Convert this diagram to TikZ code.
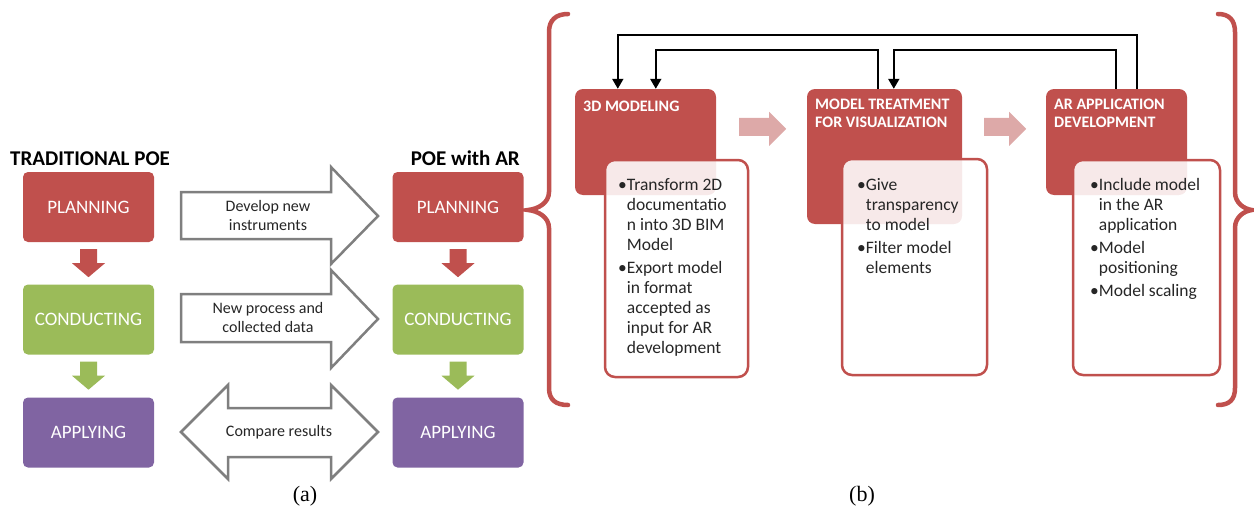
\documentclass[tikz,border=0pt]{standalone}
\usepackage{fontspec}
\setmainfont{Carlito}
\newfontfamily\serifab{Liberation Serif}
\usetikzlibrary{arrows.meta,calc}
\definecolor{cred}{HTML}{C0504D}
\definecolor{cgreen}{HTML}{9BBB59}
\definecolor{cpurple}{HTML}{8064A2}
\definecolor{cgray}{HTML}{7F7F7F}
\definecolor{cpink}{HTML}{DDA9A8}
\definecolor{ctext}{HTML}{262626}
\begin{document}
\begin{tikzpicture}[x=1pt,y=-1pt,
  box/.style={rectangle,rounded corners=5pt,minimum width=131pt,minimum height=70pt,inner sep=0pt,text=white,font=\fontsize{19}{20}\selectfont},
  blockarrow/.style={draw=cgray,line width=2.5pt,fill=white,line join=miter},
  atext/.style={align=center,text=ctext,font=\fontsize{16}{19}\selectfont,inner sep=0pt},
  title/.style={font=\bfseries\fontsize{21}{24}\selectfont,inner sep=0pt,text=black},
  header/.style={rectangle,rounded corners=8pt,fill=cred,inner sep=0pt},
  content/.style={rectangle,rounded corners=10pt,draw=cred,line width=2.5pt,fill=white,fill opacity=0.88,inner sep=0pt},
  htext/.style={font=\bfseries\fontsize{16}{18}\selectfont,text=white,inner sep=0pt,anchor=base west},
  btext/.style={font=\fontsize{17.5}{20}\selectfont,text=ctext,inner sep=0pt,anchor=base west},
  fb/.style={line width=2pt,-{Triangle[length=10pt,width=11pt]}},
  brace/.style={draw=cred,line width=4.5pt,line cap=round},
  caption/.style={font=\serifab\fontsize{22}{24}\selectfont,inner sep=0pt}
]
\useasboundingbox (0,0) rectangle (1254,514);

% ---------- (a) ----------
\node[title,anchor=base west] (tl) at (10,165) {TRADITIONAL POE};
\node[title,anchor=base east] (tr) at (520,165) {POE with AR};

\node[box,fill=cred]    (lp) at (88.5,207)   {PLANNING};
\node[box,fill=cgreen]  (lc) at (88.5,319.5) {CONDUCTING};
\node[box,fill=cpurple] (la) at (88.5,432.5) {APPLYING};
\node[box,fill=cred]    (rp) at (458,207)    {PLANNING};
\node[box,fill=cgreen]  (rc) at (458,319.5)  {CONDUCTING};
\node[box,fill=cpurple] (ra) at (458,432.5)  {APPLYING};

% small down arrows
\foreach \n/\c in {lp/cred,lc/cgreen,rp/cred,rc/cgreen}{
  \fill[\c] ($(\n.south)+(-8.5,7)$) -- ++(17,0) -- ++(0,14) -- ++(8,0)
        -- ++(-16.5,14) -- ++(-16.5,-14) -- ++(8,0) -- cycle;
}

% gray block arrows
\draw[blockarrow] (181,192) -- (331,192) -- (331,167) -- (378,216) -- (331,264) -- (331,239) -- (181,239) -- cycle;
\node[atext] (t1) at (268,216) {Develop new\\instruments};
\draw[blockarrow] (181,294) -- (331,294) -- (331,270) -- (378,319) -- (331,368) -- (331,342) -- (181,342) -- cycle;
\node[atext] (t2) at (268,318) {New process and\\collected data};
\draw[blockarrow] (181,432) -- (228,385) -- (228,408) -- (331,408) -- (331,385) -- (378,432)
   -- (331,479) -- (331,457) -- (228,457) -- (228,479) -- cycle;
\node[atext] (t3) at (279,432) {Compare results};

\node[caption] (ca) at (305,496) {(a)};
\node[caption] (cb) at (862,496) {(b)};

% ---------- (b) ----------
% braces
\draw[brace] (568,14) .. controls (556,14) and (549,20) .. (549,32) -- (549,192)
  .. controls (549,203) and (538,209) .. (528,210)
  .. controls (538,211) and (549,217) .. (549,228) -- (549,388)
  .. controls (549,400) and (556,405) .. (568,405);
\draw[brace] (1218,14) .. controls (1229,14) and (1235,20) .. (1235,32) -- (1235,192)
  .. controls (1235,203) and (1244,209) .. (1252,210)
  .. controls (1244,211) and (1235,217) .. (1235,228) -- (1235,388)
  .. controls (1235,400) and (1229,405) .. (1218,405);

% headers
\node[header,minimum width=141pt,minimum height=106pt] (h1) at (645.5,142) {};
\node[header,minimum width=155pt,minimum height=135pt] (h2) at (884.5,156.5) {};
\node[header,minimum width=141pt,minimum height=106pt] (h3) at (1116.5,142) {};

\node[htext] (ht1) at (583,111) {3D MODELING};
\node[htext] (ht2) at (815,109) {\begin{tabular}[t]{@{}l@{}}MODEL TREATMENT\\FOR VISUALIZATION\end{tabular}};
\node[htext] (ht3) at (1054,109) {\begin{tabular}[t]{@{}l@{}}AR APPLICATION\\DEVELOPMENT\end{tabular}};

% pink arrows
\fill[cpink] ($(h1.north east)+(23,29)$) -- ++(30,0) -- ++(0,-6) -- ++(17,17) -- ++(-17,17) -- ++(0,-10) -- ++(-30,0) -- cycle;
\fill[cpink] ($(h2.north east)+(22,29)$) -- ++(25,0) -- ++(0,-6) -- ++(17,17) -- ++(-17,17) -- ++(0,-10) -- ++(-25,0) -- cycle;

% content boxes
\node[content,minimum width=143pt,minimum height=217pt] (c1) at (676.5,268.5) {};
\node[content,minimum width=145pt,minimum height=216pt] (c2) at (914.5,267) {};
\node[content,minimum width=147pt,minimum height=215pt] (c3) at (1146.5,267.5) {};

\node[btext] (b1) at (618,190) {\begin{tabular}[t]{@{}l@{}l@{}}
•&Transform 2D\\ &documentatio\\ &n into 3D BIM\\ &Model\\[3pt]
•&Export model\\ &in format\\ &accepted as\\ &input for AR\\ &development\end{tabular}};
\node[btext] (b2) at (857,190) {\begin{tabular}[t]{@{}l@{}l@{}}
•&Give\\ &transparency\\ &to model\\[3pt]
•&Filter model\\ &elements\end{tabular}};
\node[btext] (b3) at (1090,190) {\begin{tabular}[t]{@{}l@{}l@{}}
•&Include model\\ &in the AR\\ &application\\[3pt]
•&Model\\ &positioning\\[3pt]
•&Model scaling\end{tabular}};

% feedback lines
\draw[fb] ($(h3.north west)+(91,0)$) -- ++(0,-54) -| ($(h1.north west)+(43,0)$);
\draw[fb] ($(h2.north west)+(71,0)$) -- ++(0,-39) -| ($(h1.north west)+(81,0)$);
\draw[fb] ($(h3.north west)+(70,0)$) -- ++(0,-39) -| ($(h2.north west)+(87,0)$);
\end{tikzpicture}
\end{document}
